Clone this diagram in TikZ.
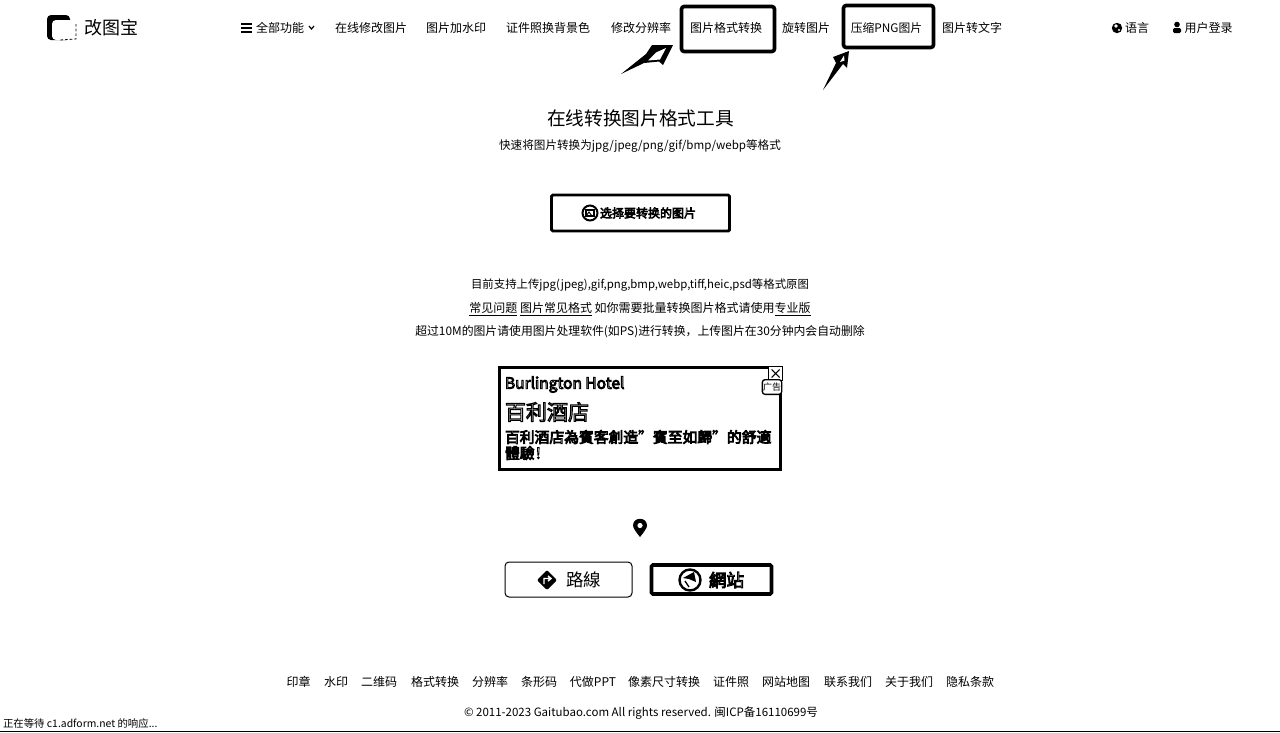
\documentclass[tikz,border=0pt]{standalone}
\usepackage{fontspec}
\setmainfont{Noto Sans CJK SC}
\newcommand\pxfont[1]{\fontsize{\dimexpr #1pt*3/4\relax}{\dimexpr #1pt*9/10\relax}\selectfont}
\newcommand\halotext[2][0.5]{\special{pdf:code 2 Tr #1 w 0 0 0 RG}#2\special{pdf:code 0 Tr 1 w}}
\tikzset{
  every node/.style={inner sep=0pt,outer sep=0pt,text=black},
  label12/.style={font=\pxfont{12}},
  mark box/.style={draw=black,line width=2.7pt,rounded corners=2pt,fill=none,anchor=north west},
  hollow ink/.style={fill=black,draw=none},
  halo label/.style={text=white,anchor=west},
}
\begin{document}
\begin{tikzpicture}[x=0.75pt,y=-0.75pt]
\useasboundingbox (0,0) rectangle (1280,732);
\fill[white] (0,0) rectangle (1280,732);
% logo
\fill[black,rounded corners=3pt] (47,15) rectangle (70,40);
\fill[white,rounded corners=3pt] (52,20) rectangle (76,40);
\draw[black,line width=0.6pt,dash pattern=on 2pt off 1.5pt] (76,24) -- (76,39) -- (60,40);
\node[font=\pxfont{18}] (brand) at (111.5,28) {改图宝};
% nav
\draw[line width=1pt] (241,24) -- (252,24) (241,28) -- (252,28) (241,32) -- (252,32);
\node[label12] (nall) at (280,28) {全部功能};
\draw[line width=0.9pt] (309,26) -- (311.5,29) -- (314,26);
\node[label12] (n1) at (371,28) {在线修改图片};
\node[label12] (n2) at (456,28) {图片加水印};
\node[label12] (n3) at (548,28) {证件照换背景色};
\node[label12] (n4) at (641,28) {修改分辨率};
\node[label12] (n5) at (726,28) {图片格式转换};
\node[label12] (n6) at (806,28) {旋转图片};
\node[font=\pxfont{11.8}] (n7) at (886.5,28) {压缩PNG图片};
\node[label12] (n8) at (972,28) {图片转文字};
\fill (1117,28) circle (5.2);
\fill[white] (1116,26) circle (1.8) (1119,30) circle (1.1);
\node[label12] (lang) at (1137,28) {语言};
\fill (1177,24.5) circle (2.8);
\fill[rounded corners=1pt] (1173,28) rectangle (1181,33);
\node[label12] (login) at (1208.5,28) {用户登录};
% highlight boxes
\node[mark box,minimum width=69.75pt,minimum height=33.75pt] (boxA) at (681.5,6.5) {};
\node[mark box,minimum width=67.5pt,minimum height=31.5pt] (boxB) at (843.5,5.5) {};
% hand-drawn arrows
\coordinate (tipA) at ([shift={(-8.5,-6.5)}]boxA.south west);
\coordinate (tailA) at (621,74);
\fill[hollow ink] (tailA) -- (646,54) -- (652,45) -- (tipA) -- (663,65) -- (659,61.5) -- (644,63) -- cycle;
\fill[white] (648,60.5) -- (656,52.5) -- (666,48) -- (660,59.5) -- cycle;
\coordinate (tipB) at ([shift={(5.5,3.5)}]boxB.south west);
\coordinate (tailB) at (823,90);
\fill[hollow ink] (tailB) -- (836,63) -- (833,57) -- (tipB) -- (847,68) -- (843,64) -- cycle;
\fill[white] (840,62) -- (844,55.5) -- (844.5,60.5) -- cycle;
% heading
\node[font=\pxfont{18.7}] (title) at (640.5,118) {在线转换图片格式工具};
\node[font=\pxfont{11.6}] (sub) at (640,146) {快速将图片转换为jpg/jpeg/png/gif/bmp/webp等格式};
% upload button
\node[draw=black,line width=2.2pt,minimum width=133.5pt,minimum height=27pt,rounded corners=1pt] (upload) at (640.5,213) {};
\draw[line width=1.5pt,fill=white] (590,213) circle (7.5);
\draw[line width=0.8pt] (586,216) -- (586,210) -- (594,210) -- (594,216) -- cycle;
\draw[line width=0.7pt] (586,216) -- (589,212) -- (592,216);
\node[label12,halo label] (uptext) at (600,213) {\halotext[0.45]{选择要转换的图片}};
% notes
\node[font=\pxfont{11.4}] (l1) at (640,285) {目前支持上传jpg(jpeg),gif,png,bmp,webp,tiff,heic,psd等格式原图};
\node[label12] (l2) at (640,309) {\underline{常见问题} \underline{图片常见格式} 如你需要批量转换图片格式请使用\underline{专业版}};
\node[font=\pxfont{11.85}] (l3) at (640,332) {超过10M的图片请使用图片处理软件(如PS)进行转换，上传图片在30分钟内会自动删除};
% ad
\node[draw=black,line width=2.4pt,minimum width=210.75pt,minimum height=76.5pt,anchor=north west] (ad) at (499.5,367.5) {};
\node[font=\pxfont{15.5},halo label] (ad1) at (505,384.5) {\halotext[0.7]{Burlington Hotel}};
\node[font=\pxfont{21},halo label] (ad2) at (505,412) {\halotext[0.8]{百利酒店}};
\node[font=\pxfont{14.8},halo label] (ad3) at (505,437) {\halotext[0.6]{百利酒店為賓客創造"賓至如歸"的舒適}};
\node[font=\pxfont{14.8},halo label] (ad4) at (505,453) {\halotext[0.6]{體驗！}};
\node[draw=black,fill=white,line width=0.75pt,minimum width=10pt,minimum height=10pt] (adclose) at (775.5,373.5) {};
\draw[line width=0.8pt] (771.5,369.5) -- (779.5,377.5) (779.5,369.5) -- (771.5,377.5);
\node[draw=black,fill=white,line width=1pt,rounded corners=2pt,minimum width=14.5pt,minimum height=11pt,font=\pxfont{9}] (adtag) at (772,387) {广告};
% pin
\fill (640,537) .. controls (636,532) and (633,528) .. (633,525.5) .. controls (633,516.5) and (647,516.5) .. (647,525.5) .. controls (647,528) and (644,532) .. (640,537) -- cycle;
\fill[white] (640,525.5) circle (2.6);
% buttons
\node[draw=black,line width=0.75pt,rounded corners=3pt,minimum width=95.25pt,minimum height=26.25pt] (route) at (568.5,579.5) {};
\fill[rounded corners=1pt] (547,570) -- (557,580) -- (547,590) -- (537,580) -- cycle;
\draw[white,line width=1.1pt] (544,584) -- (544,578.5) -- (550,578.5) (548,576) -- (551,578.5) -- (548,581);
\node[font=\pxfont{17.5}] (routetext) at (583.5,580) {路線};
\node[draw=black,line width=2.7pt,rounded corners=1pt,minimum width=90pt,minimum height=21.75pt] (site) at (711.5,579.5) {};
\draw[line width=1.8pt] (690,580) circle (10.5);
\fill (683,578) -- (694,572) -- (696,582) -- (689,579) -- cycle;
\draw[line width=1pt] (685,581) -- (689,587);
\node[font=\pxfont{17.5},halo label] (sitetext) at (709,580) {\halotext[0.7]{網站}};
% footer
\node[label12] (f1) at (298.5,682) {印章};
\node[label12] (f2) at (336,682) {水印};
\node[label12] (f3) at (379,682) {二维码};
\node[label12] (f4) at (435,682) {格式转换};
\node[label12] (f5) at (490,682) {分辨率};
\node[label12] (f6) at (539,682) {条形码};
\node[label12] (f7) at (593,682) {代做PPT};
\node[label12] (f8) at (664,682) {像素尺寸转换};
\node[label12] (f9) at (731,682) {证件照};
\node[label12] (f10) at (786,682) {网站地图};
\node[label12] (f11) at (848,682) {联系我们};
\node[label12] (f12) at (909,682) {关于我们};
\node[label12] (f13) at (970,682) {隐私条款};
\node[font=\pxfont{11.5}] (copy) at (641,713) {© 2011-2023 Gaitubao.com All rights reserved. 闽ICP备16110699号};
\node[font=\pxfont{10.4},anchor=west] (status) at (3,724) {正在等待 c1.adform.net 的响应...};
\draw[line width=1pt] (0,731.2) -- (1280,731.2);
\end{tikzpicture}
\end{document}
